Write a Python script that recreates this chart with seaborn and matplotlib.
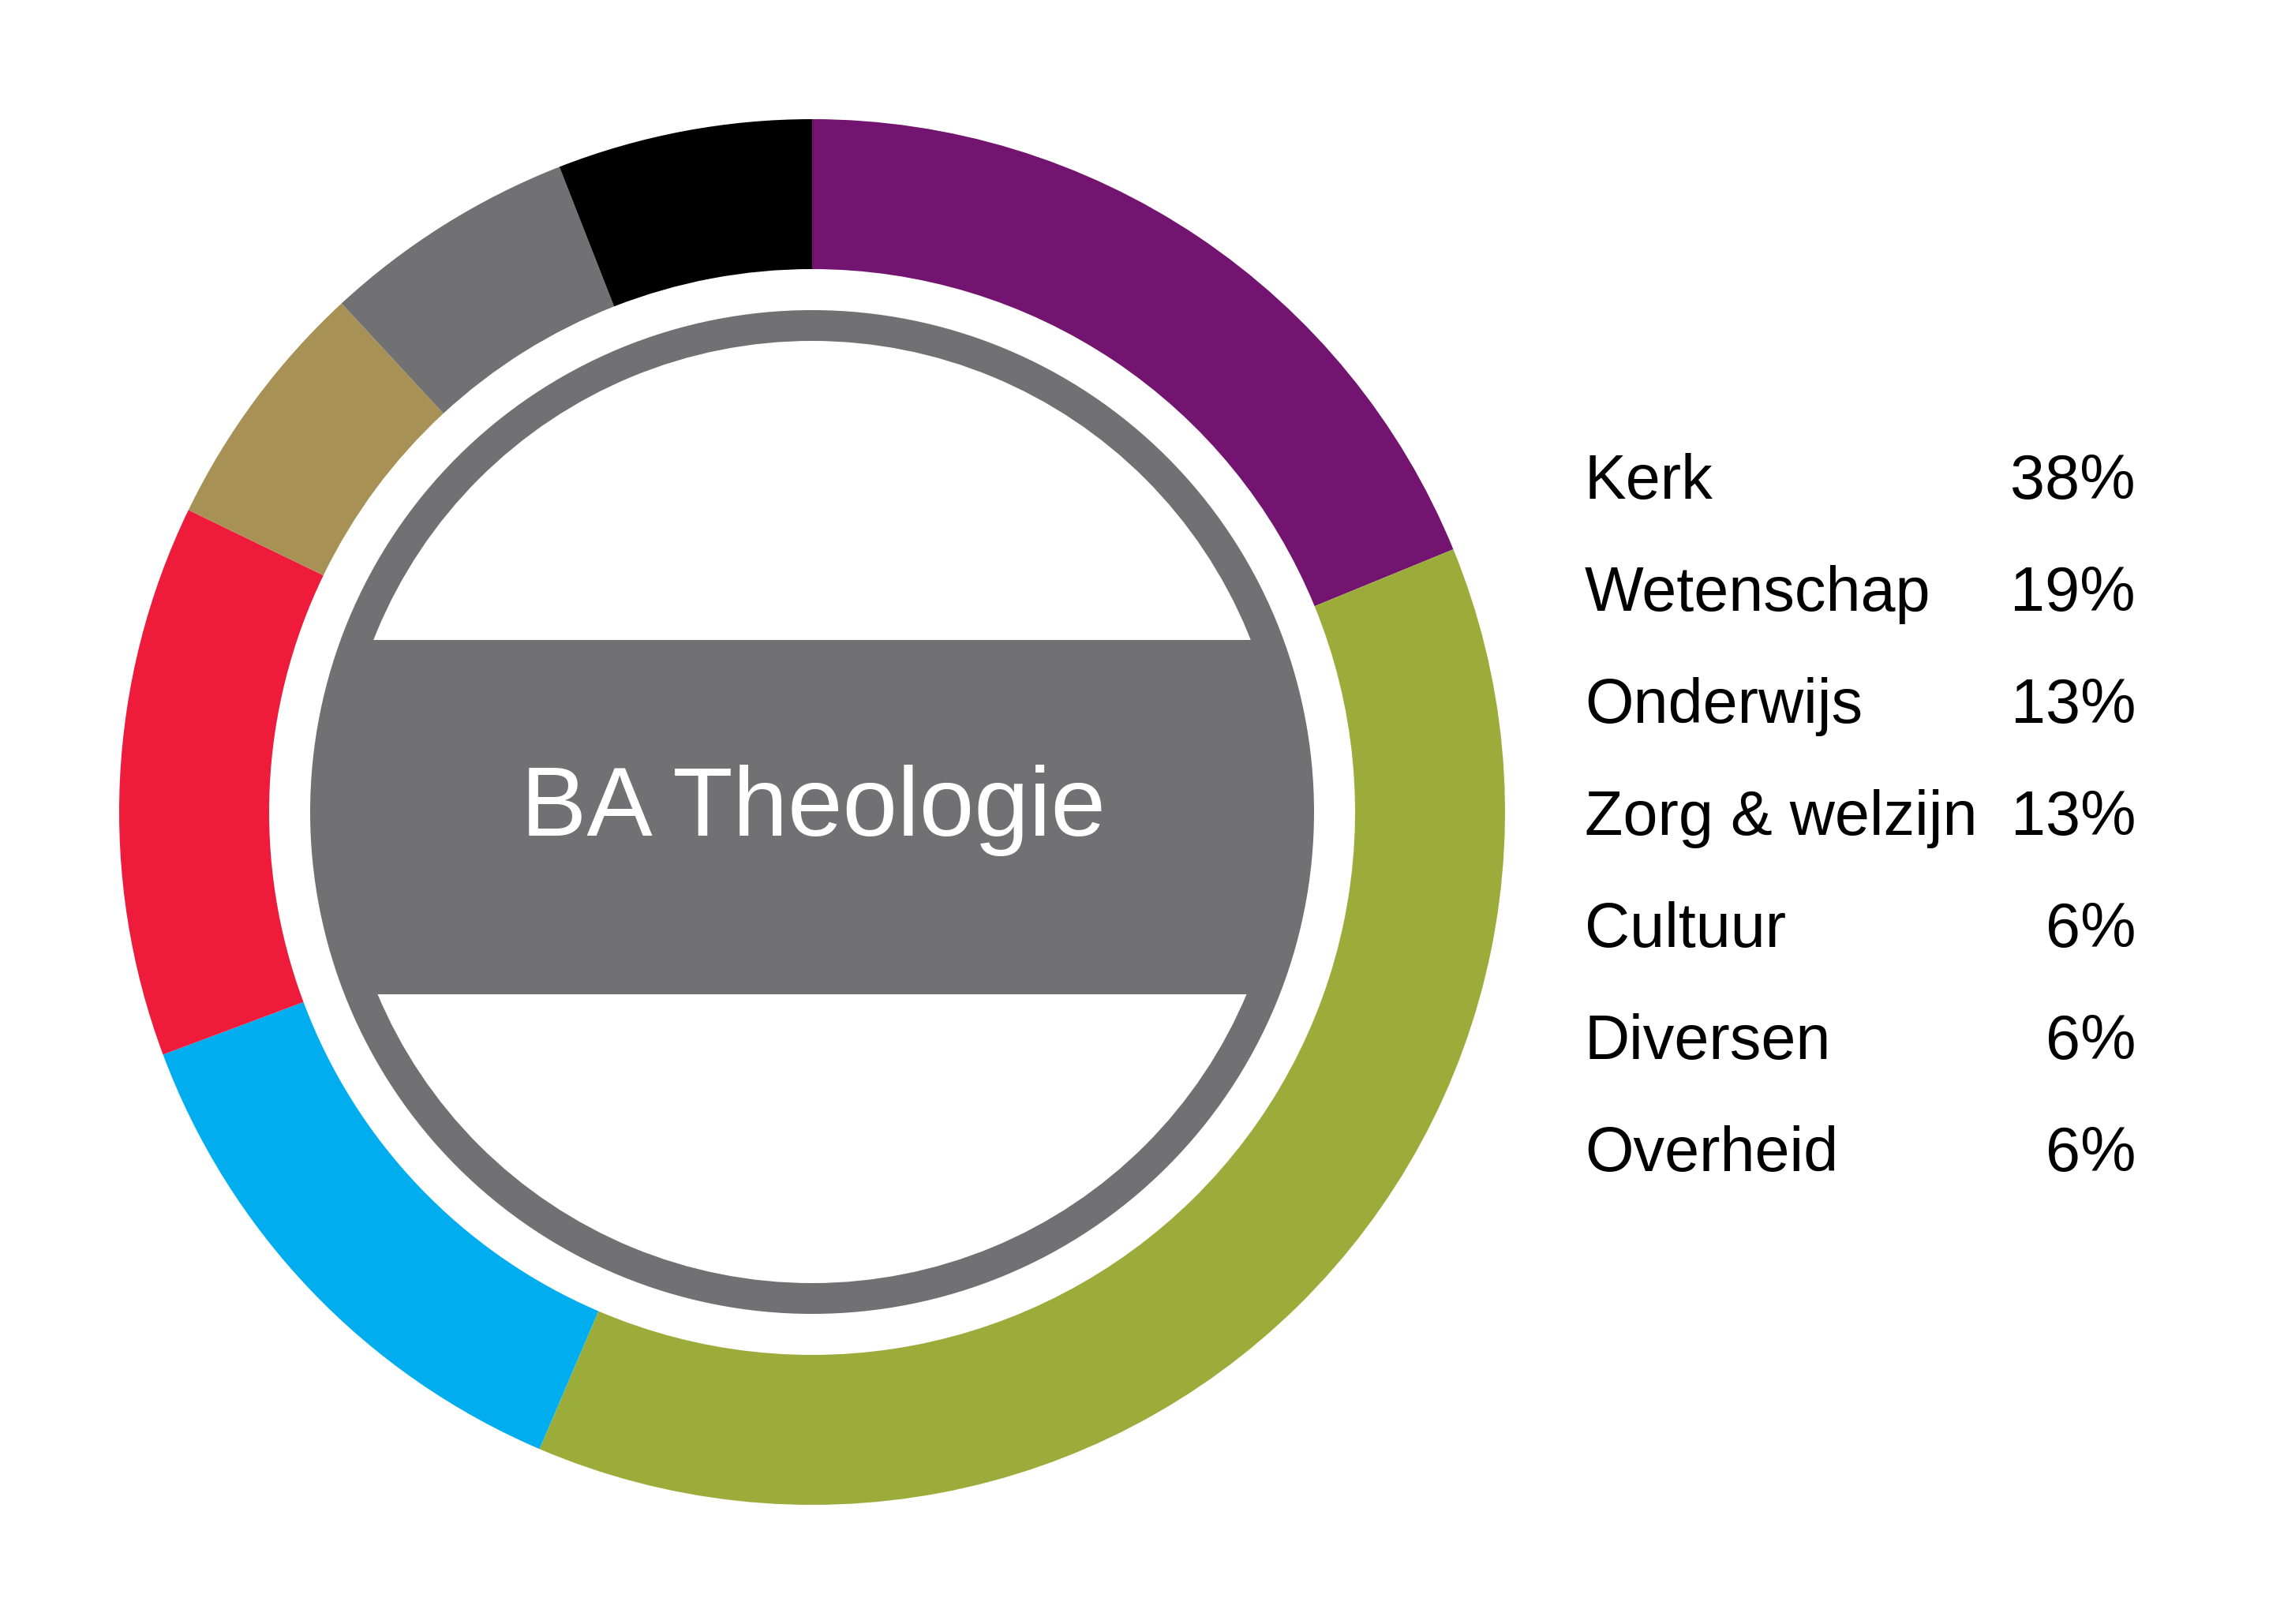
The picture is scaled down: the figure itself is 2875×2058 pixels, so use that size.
import numpy as np
import matplotlib
matplotlib.use("Agg")
import matplotlib.pyplot as plt
import matplotlib.patches as mpatches
import seaborn as sns

sns.set_theme(style="white")
plt.rcParams['font.family'] = ['Liberation Sans', 'DejaVu Sans']

# legend rows (as printed on the right)
labels = ['Kerk', 'Wetenschap', 'Onderwijs', 'Zorg & welzijn', 'Cultuur', 'Diversen', 'Overheid']
percents = [38, 19, 13, 13, 6, 6, 6]

# ring order, clockwise from 12 o'clock
ring_order = ['Wetenschap', 'Kerk', 'Onderwijs', 'Zorg & welzijn', 'Cultuur', 'Diversen', 'Overheid']
ring_colors = ['#731470', '#9CAC3B', '#00AEEF', '#EE1B3B', '#A79155', '#717174', '#000000']
center_label = 'BA Theologie'

W, H = 2875, 2058
fig = plt.figure(figsize=(W / 100, H / 100), dpi=100)
ax = fig.add_axes([0, 0, 1, 1])
ax.set_xlim(0, W)
ax.set_ylim(0, H)
ax.set_aspect('equal')
ax.axis('off')

cx, cy = 1029, H - 1029
r_out, r_in = 878, 688

ring_vals = [percents[labels.index(k)] for k in ring_order]
ax.pie(ring_vals, colors=ring_colors, startangle=90, counterclock=False,
       radius=r_out, center=(cx, cy), frame=True,
       wedgeprops=dict(width=r_out - r_in, linewidth=0))

# grey inner ring
ax.add_patch(mpatches.Wedge((cx, cy), 636, 0, 360, width=39, color='#717073', lw=0))

# grey band clipped to inner circle
clip = mpatches.Circle((cx, cy), 600, transform=ax.transData)
band = mpatches.Rectangle((cx - 700, H - 1260), 1400, 449, color='#717073', lw=0)
ax.add_patch(band)
band.set_clip_path(clip)

ax.text(cx + 1, H - 1059, center_label, color='white', fontsize=90,
        ha='center', va='baseline')

for i, (lab, p) in enumerate(zip(labels, percents)):
    y = H - (632 + 142 * i)
    ax.text(2008, y, lab, fontsize=57, color='black', ha='left', va='baseline')
    ax.text(2706, y, f'{p}%', fontsize=57, color='black', ha='right', va='baseline')

ax.set_xlim(0, W)
ax.set_ylim(0, H)
fig.savefig('out.png', dpi=100, facecolor='white')
